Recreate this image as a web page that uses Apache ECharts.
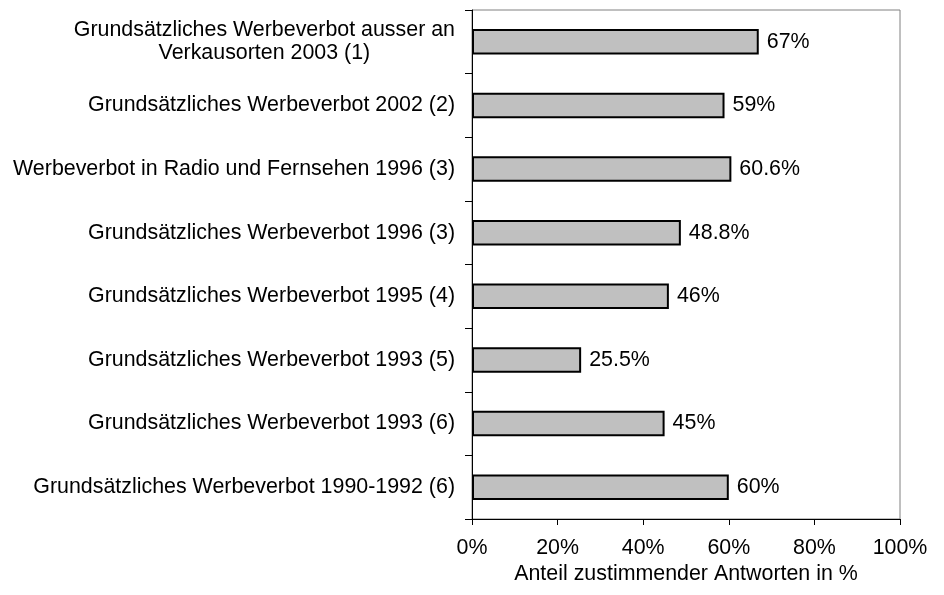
<!DOCTYPE html>
<html>
<head>
<meta charset="utf-8">
<script src="https://cdn.jsdelivr.net/npm/echarts@6/dist/echarts.min.js"></script>
<style>
  html, body { margin: 0; padding: 0; background: #fff; }
  #chart { width: 944px; height: 595px; }
</style>
</head>
<body>
<div id="chart"></div>
<script>
// Kategorien (von oben nach unten)
var categories = [
  'Grundsätzliches Werbeverbot ausser an\nVerkausorten 2003 (1)',
  'Grundsätzliches Werbeverbot 2002 (2)',
  'Werbeverbot in Radio und Fernsehen 1996 (3)',
  'Grundsätzliches Werbeverbot 1996 (3)',
  'Grundsätzliches Werbeverbot 1995 (4)',
  'Grundsätzliches Werbeverbot 1993 (5)',
  'Grundsätzliches Werbeverbot 1993 (6)',
  'Grundsätzliches Werbeverbot 1990-1992 (6)'
];
var values = [67, 59, 60.6, 48.8, 46, 25.5, 45, 60];
var xTicks = [0, 20, 40, 60, 80, 100];

var font = 'Liberation Sans, Arial, sans-serif';
var fs = 21.4;
var myChart = echarts.init(document.getElementById('chart'));

var option = {
  animation: false,
  backgroundColor: '#fff',
  grid: {
    left: 472, right: 44, top: 10, bottom: 76,
    show: true, borderColor: '#808080', borderWidth: 1
  },
  xAxis: {
    type: 'value',
    min: xTicks[0],
    max: xTicks[xTicks.length - 1],
    interval: xTicks[1] - xTicks[0],
    name: 'Anteil zustimmender Antworten in %',
    nameLocation: 'middle',
    nameGap: 40,
    nameTextStyle: { color: '#000', fontSize: fs, fontFamily: font },
    axisLine: { show: true, lineStyle: { color: '#000', width: 1 } },
    axisTick: { show: true, length: 6, lineStyle: { color: '#000' } },
    splitLine: { show: false },
    axisLabel: {
      color: '#000', fontSize: fs, fontFamily: font, margin: 19,
      formatter: function (v) { return v + '%'; }
    }
  },
  yAxis: {
    type: 'category',
    inverse: true,
    data: categories,
    axisLine: { show: true, lineStyle: { color: '#000', width: 1 } },
    axisTick: { show: true, length: 7, lineStyle: { color: '#000' } },
    axisLabel: {
      color: '#000', fontSize: fs, fontFamily: font, margin: 17,
      lineHeight: 23,
      formatter: function (v) {
        if (v.indexOf('\n') >= 0) {
          return v.split('\n').map(function (s) { return '{c|' + s + '}'; }).join('\n');
        }
        return v;
      },
      rich: {
        c: { align: 'center', color: '#000', fontSize: fs, fontFamily: font, lineHeight: 23 }
      }
    }
  },
  series: [{
    type: 'bar',
    data: values,
    barCategoryGap: '60%',
    itemStyle: { color: '#c0c0c0', borderColor: '#000', borderWidth: 2 },
    label: {
      show: true,
      position: 'right',
      distance: 8,
      color: '#000',
      fontSize: fs,
      fontFamily: font,
      formatter: function (p) { return p.value + '%'; }
    }
  }]
};
myChart.setOption(option);
window.addEventListener('resize', function () { myChart.resize(); });
</script>
</body>
</html>
